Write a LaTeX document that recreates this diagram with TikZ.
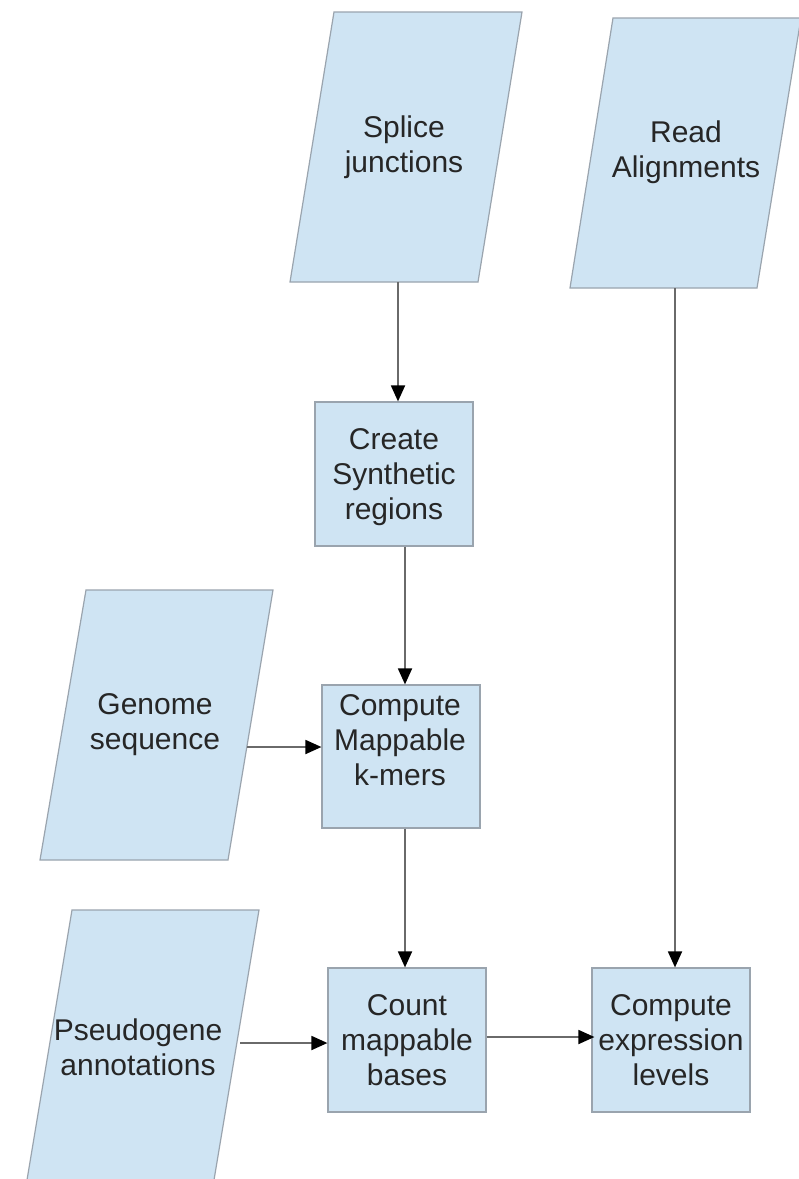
\documentclass[tikz,border=0pt]{standalone}
\usepackage{fontspec}
\setmainfont{Liberation Sans}
\usetikzlibrary{arrows.meta}
\definecolor{boxfill}{HTML}{CFE4F3}
\definecolor{boxline}{HTML}{9AA4AE}
\definecolor{conn}{HTML}{6A6A6A}
\begin{document}
\begin{tikzpicture}[x=1pt,y=-1pt,
  procbox/.style={draw=boxline, fill=boxfill, line width=1.2pt, minimum width=158pt, minimum height=144pt, inner sep=0pt},
  lbl/.style={align=center, font=\fontsize{30}{35}\selectfont, text=black!85, inner sep=0pt},
  iobox/.style={draw=boxline, fill=boxfill, line width=1.2pt},
  flow/.style={draw=conn, line width=1.8pt, -{Triangle[length=16pt,width=14pt,color=black]}}]
\useasboundingbox (0,0) rectangle (799,1179);
\clip (0,0) rectangle (799,1179);
\fill[white] (0,0) rectangle (799,1179);

% input parallelograms
\draw[iobox] (334,12) -- (522,12) -- (478,282) -- (290,282) -- cycle;
\node[lbl] (splice) at (404,147) {Splice\\junctions};

\draw[iobox] (613,18) -- (801,18) -- (757,288) -- (570,288) -- cycle;
\node[lbl] (readal) at (686,152) {Read\\Alignments};

\draw[iobox] (86,590) -- (273,590) -- (228,860) -- (40,860) -- cycle;
\node[lbl] (genome) at (155,725) {Genome\\sequence};

\draw[iobox] (72,910) -- (259,910) -- (214,1180) -- (27,1180) -- cycle;
\node[lbl] (pseudo) at (138,1047) {Pseudogene\\annotations};

% process boxes
\node[procbox] (create) at (394,474) {};
\node[lbl] (createtxt) at (394,477) {Create\\Synthetic\\regions};

\node[procbox, minimum height=143pt] (kmers) at (401,756.5) {};
\node[lbl] (kmerstxt) at (400,740) {Compute\\Mappable\\k-mers};

\node[procbox] (count) at (407,1040) {};
\node[lbl] (counttxt) at (407,1040) {Count\\mappable\\bases};

\node[procbox] (expr) at (671,1040) {};
\node[lbl] (exprtxt) at (671,1040) {Compute\\expression\\levels};

% connectors
\coordinate (spliceout) at (398,282);
\coordinate (readout) at (675,288);
\coordinate (genout) at (247,747);
\coordinate (pseudoout) at (240,1043);

\draw[flow] (spliceout) -- (spliceout |- create.north);
\draw[flow] ([xshift=11pt]create.south) -- ([xshift=4pt]kmers.north);
\draw[flow] ([xshift=4pt]kmers.south) -- ([xshift=-2pt]count.north);
\draw[flow] (readout) -- (readout |- expr.north);
\draw[flow] (genout) -- (genout -| kmers.west);
\draw[flow] (pseudoout) -- (pseudoout -| count.west);
\draw[flow] ([yshift=3pt]count.east) -- ([yshift=3pt,xshift=3pt]expr.west);
\end{tikzpicture}
\end{document}
